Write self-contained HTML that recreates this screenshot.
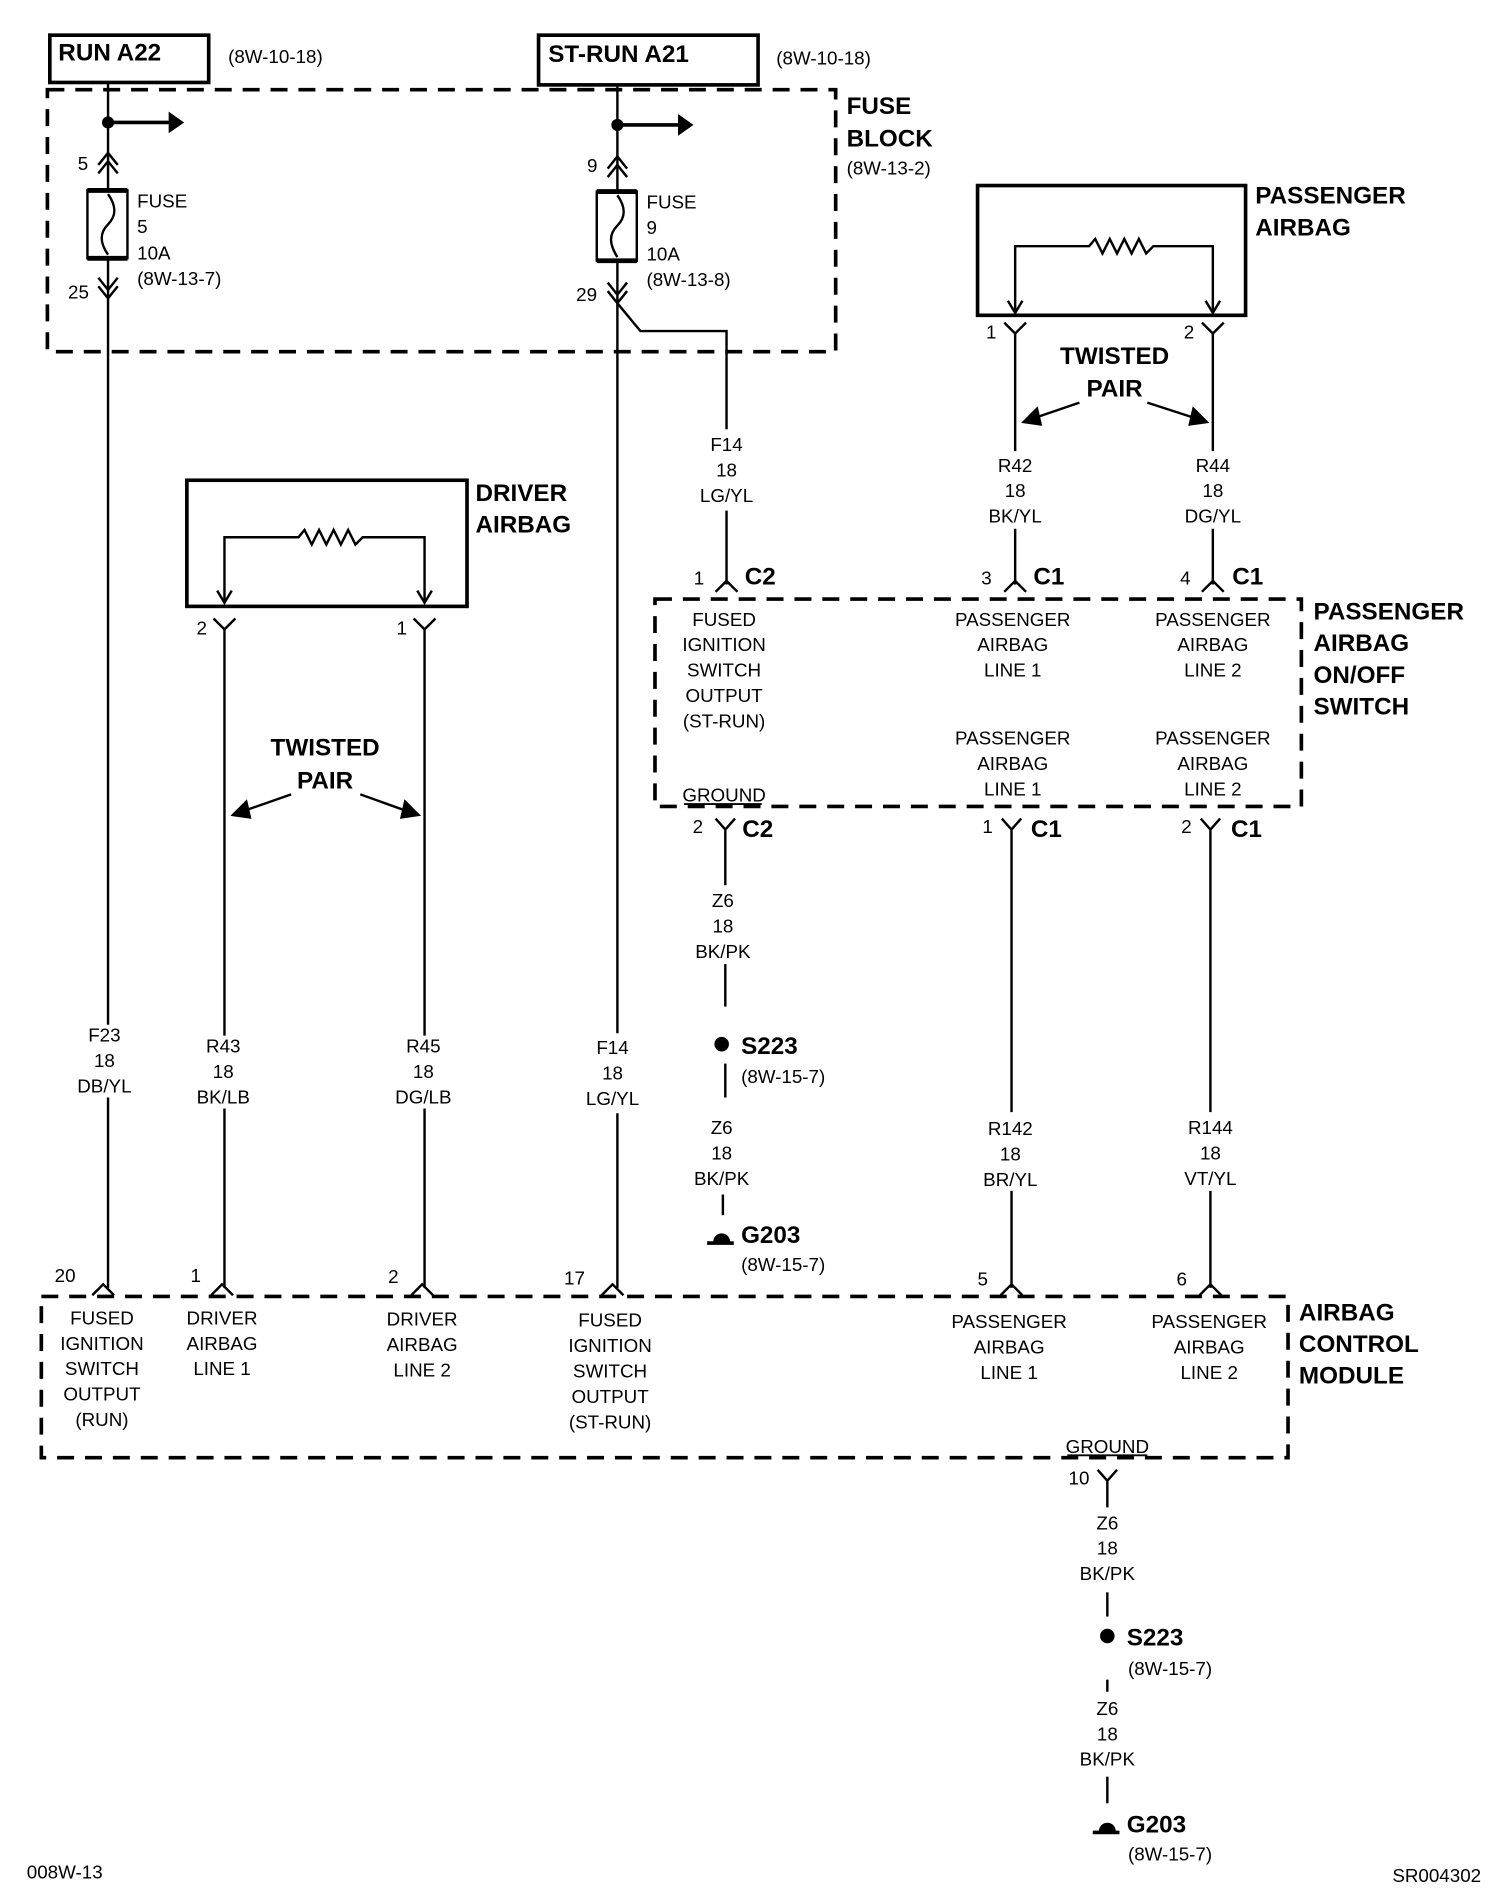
<!DOCTYPE html>
<html><head><meta charset="utf-8"><style>
html,body{margin:0;padding:0;background:#fff}
svg{display:block}
text{font-family:"Liberation Sans Narrow","Liberation Sans",sans-serif;fill:#000}
.s{font-size:15.5px}
.c{font-size:15.5px;text-anchor:middle}
.b{font-size:20px;font-weight:bold}
</style></head><body>
<svg width="1504" height="1904" viewBox="0 0 1240 1570" xmlns="http://www.w3.org/2000/svg">
<g stroke="#000" fill="none" stroke-width="2">
<rect x="41" y="29" width="131" height="39" stroke-width="3"/>
<rect x="444" y="29" width="181" height="41" stroke-width="3"/>
<rect x="39" y="74" width="650" height="216" stroke-width="3" stroke-dasharray="14,9"/>
<line x1="89" y1="68" x2="89" y2="157"/>
<line x1="89" y1="213" x2="89" y2="845"/>
<line x1="89" y1="905" x2="89" y2="1062"/>
<line x1="89" y1="101" x2="140" y2="101" stroke-width="3"/>
<path d="M140,94 L150,101 L140,108 z" fill="#000"/>
<path d="M81,136 L89,126 L97,136 M81,143 L89,133 L97,143"/>
<rect x="72" y="157" width="33" height="56"/>
<line x1="72" y1="157" x2="105" y2="157" stroke-width="4"/>
<line x1="72" y1="213" x2="105" y2="213" stroke-width="4"/>
<path d="M89,160 C96,170 96,178 89,185 C82,192 82,200 89,210"/>
<path d="M81,229 L89,239 L97,229 M81,236 L89,246 L97,236"/>
<line x1="509" y1="70" x2="509" y2="158"/>
<line x1="509" y1="215" x2="509" y2="852"/>
<line x1="509" y1="918" x2="509" y2="1062"/>
<line x1="509" y1="103" x2="560" y2="103" stroke-width="3"/>
<path d="M560,96 L570,103 L560,110 z" fill="#000"/>
<path d="M501,139 L509,129 L517,139 M501,146 L509,136 L517,146"/>
<rect x="492" y="158" width="33" height="57"/>
<line x1="492" y1="158" x2="525" y2="158" stroke-width="4"/>
<line x1="492" y1="215" x2="525" y2="215" stroke-width="4"/>
<path d="M509,161 C516,171 516,179 509,186 C502,193 502,201 509,212"/>
<path d="M501,233 L509,243 L517,233 M501,240 L509,250 L517,240"/>
<path d="M509,250 L528,273 L599,273 L599,354"/>
<line x1="599" y1="421" x2="599" y2="482"/>
<path d="M590,488 L599,479 L608,488"/>
<rect x="154" y="396" width="231" height="104" stroke-width="3"/>
<path d="M185,496 L185,443 L246,443 L251,437 L257,449 L263,437 L269,449 L275,437 L281,449 L287,437 L293,449 L299,443 L350,443 L350,496"/>
<path d="M179,487 L185,497 L191,487 M344,487 L350,497 L356,487"/>
<path d="M176,510 L185,519 L194,510 M341,510 L350,519 L359,510"/>
<line x1="185" y1="519" x2="185" y2="854"/>
<line x1="185" y1="914" x2="185" y2="1062"/>
<line x1="350" y1="519" x2="350" y2="854"/>
<line x1="350" y1="914" x2="350" y2="1062"/>
<line x1="240" y1="655" x2="200" y2="669"/>
<path d="M192,672 L203,661 L206,674 z" fill="#000"/>
<line x1="297" y1="655" x2="336" y2="669"/>
<path d="M345,672 L331,674 L334,661 z" fill="#000"/>
<rect x="806" y="153" width="221" height="107" stroke-width="3"/>
<path d="M837,257 L837,203 L898,203 L903,197 L909,209 L915,197 L921,209 L927,197 L933,209 L939,197 L945,209 L951,203 L1000,203 L1000,257"/>
<path d="M831,248 L837,258 L843,248 M994,248 L1000,258 L1006,248"/>
<path d="M828,266 L837,275 L846,266 M991,266 L1000,275 L1009,266"/>
<line x1="837" y1="275" x2="837" y2="372"/>
<line x1="837" y1="436" x2="837" y2="482"/>
<line x1="1000" y1="275" x2="1000" y2="372"/>
<line x1="1000" y1="436" x2="1000" y2="482"/>
<path d="M828,488 L837,479 L846,488 M991,488 L1000,479 L1009,488"/>
<line x1="890" y1="332" x2="852" y2="345"/>
<path d="M844,348 L855,337 L858,350 z" fill="#000"/>
<line x1="946" y1="332" x2="986" y2="345"/>
<path d="M995,348 L981,350 L984,337 z" fill="#000"/>
<rect x="540" y="494" width="533" height="171" stroke-width="3" stroke-dasharray="14,9"/>
<line x1="564" y1="663" x2="628" y2="663" stroke-width="1.5"/>
<path d="M590,675 L598,684 L606,675 M598,684 L598,730"/>
<line x1="598" y1="795" x2="598" y2="830"/>
<line x1="598" y1="877" x2="598" y2="905"/>
<line x1="596" y1="985" x2="596" y2="1002"/>
<path d="M826,675 L834,684 L842,675 M834,684 L834,917"/>
<line x1="834" y1="982" x2="834" y2="1062"/>
<path d="M990,675 L998,684 L1006,675 M998,684 L998,917"/>
<line x1="998" y1="982" x2="998" y2="1062"/>
<path d="M76,1068 L85,1059 L94,1068 M174,1068 L183,1059 L192,1068 M339,1068 L348,1059 L357,1068 M496,1068 L505,1059 L514,1068 M825,1068 L834,1059 L843,1068 M989,1068 L998,1059 L1007,1068"/>
<rect x="34" y="1069" width="1028" height="133" stroke-width="3" stroke-dasharray="14,9"/>
<line x1="880" y1="1200" x2="946" y2="1200" stroke-width="1.5"/>
<path d="M905,1212 L913,1221 L921,1212 M913,1221 L913,1243"/>
<line x1="913" y1="1313" x2="913" y2="1333"/>
<line x1="913" y1="1385" x2="913" y2="1395"/>
<line x1="913" y1="1465" x2="913" y2="1487"/>
<line x1="583" y1="1025" x2="605" y2="1025" stroke-width="3"/>
<line x1="901" y1="1511" x2="923" y2="1511" stroke-width="3"/>
</g>
<g fill="#000">
<circle cx="89" cy="101" r="5"/>
<circle cx="509" cy="103" r="5"/>
<circle cx="595" cy="861" r="6"/>
<path d="M588,1024 A7,7 0 0 1 602,1024 z"/>
<circle cx="913" cy="1349" r="6"/>
<path d="M906,1510 A7,7 0 0 1 920,1510 z"/>
</g>
<text class="b" x="48" y="50">RUN A22</text>
<text class="s" x="188" y="52">(8W-10-18)</text>
<text class="b" x="452" y="51">ST-RUN A21</text>
<text class="s" x="640" y="53">(8W-10-18)</text>
<text class="b" x="698" y="94">FUSE</text>
<text class="b" x="698" y="121">BLOCK</text>
<text class="s" x="698" y="144">(8W-13-2)</text>
<text class="s" x="64" y="140">5</text>
<text class="s" x="113" y="171">FUSE</text><text class="s" x="113" y="192">5</text><text class="s" x="113" y="214">10A</text><text class="s" x="113" y="235">(8W-13-7)</text>
<text class="s" x="56" y="246">25</text>
<text class="s" x="484" y="142">9</text>
<text class="s" x="533" y="172">FUSE</text><text class="s" x="533" y="193">9</text><text class="s" x="533" y="215">10A</text><text class="s" x="533" y="236">(8W-13-8)</text>
<text class="s" x="475" y="248">29</text>
<text class="c" x="599" y="372">F14</text><text class="c" x="599" y="393">18</text><text class="c" x="599" y="414">LG/YL</text>
<text class="b" x="392" y="413">DRIVER</text><text class="b" x="392" y="439">AIRBAG</text>
<text class="s" x="162" y="523">2</text><text class="s" x="327" y="523">1</text>
<text class="b" x="268" y="623" text-anchor="middle">TWISTED</text><text class="b" x="268" y="650" text-anchor="middle">PAIR</text>
<text class="b" x="1035" y="168">PASSENGER</text><text class="b" x="1035" y="194">AIRBAG</text>
<text class="s" x="813" y="279">1</text><text class="s" x="976" y="279">2</text>
<text class="b" x="919" y="300" text-anchor="middle">TWISTED</text><text class="b" x="919" y="327" text-anchor="middle">PAIR</text>
<text class="c" x="837" y="389">R42</text><text class="c" x="837" y="410">18</text><text class="c" x="837" y="431">BK/YL</text>
<text class="c" x="1000" y="389">R44</text><text class="c" x="1000" y="410">18</text><text class="c" x="1000" y="431">DG/YL</text>
<text class="s" x="572" y="482">1</text><text class="b" x="614" y="482">C2</text>
<text class="s" x="809" y="482">3</text><text class="b" x="852" y="482">C1</text>
<text class="s" x="973" y="482">4</text><text class="b" x="1016" y="482">C1</text>
<text class="b" x="1083" y="511">PASSENGER</text><text class="b" x="1083" y="537">AIRBAG</text><text class="b" x="1083" y="563">ON/OFF</text><text class="b" x="1083" y="589">SWITCH</text>
<text class="c" x="597" y="516">FUSED</text><text class="c" x="597" y="537">IGNITION</text><text class="c" x="597" y="558">SWITCH</text><text class="c" x="597" y="579">OUTPUT</text><text class="c" x="597" y="600">(ST-RUN)</text>
<text class="c" x="835" y="516">PASSENGER</text><text class="c" x="835" y="537">AIRBAG</text><text class="c" x="835" y="558">LINE 1</text>
<text class="c" x="1000" y="516">PASSENGER</text><text class="c" x="1000" y="537">AIRBAG</text><text class="c" x="1000" y="558">LINE 2</text>
<text class="c" x="835" y="614">PASSENGER</text><text class="c" x="835" y="635">AIRBAG</text><text class="c" x="835" y="656">LINE 1</text>
<text class="c" x="1000" y="614">PASSENGER</text><text class="c" x="1000" y="635">AIRBAG</text><text class="c" x="1000" y="656">LINE 2</text>
<text class="c" x="597" y="661">GROUND</text>
<text class="s" x="571" y="687">2</text><text class="b" x="612" y="690">C2</text>
<text class="s" x="810" y="687">1</text><text class="b" x="850" y="690">C1</text>
<text class="s" x="974" y="687">2</text><text class="b" x="1015" y="690">C1</text>
<text class="c" x="596" y="748">Z6</text><text class="c" x="596" y="769">18</text><text class="c" x="596" y="790">BK/PK</text>
<text class="b" x="611" y="869">S223</text><text class="s" x="611" y="893">(8W-15-7)</text>
<text class="c" x="595" y="935">Z6</text><text class="c" x="595" y="956">18</text><text class="c" x="595" y="977">BK/PK</text>
<text class="b" x="611" y="1025">G203</text><text class="s" x="611" y="1048">(8W-15-7)</text>
<text class="c" x="86" y="859">F23</text><text class="c" x="86" y="880">18</text><text class="c" x="86" y="901">DB/YL</text>
<text class="c" x="184" y="868">R43</text><text class="c" x="184" y="889">18</text><text class="c" x="184" y="910">BK/LB</text>
<text class="c" x="349" y="868">R45</text><text class="c" x="349" y="889">18</text><text class="c" x="349" y="910">DG/LB</text>
<text class="c" x="505" y="869">F14</text><text class="c" x="505" y="890">18</text><text class="c" x="505" y="911">LG/YL</text>
<text class="c" x="833" y="936">R142</text><text class="c" x="833" y="957">18</text><text class="c" x="833" y="978">BR/YL</text>
<text class="c" x="998" y="935">R144</text><text class="c" x="998" y="956">18</text><text class="c" x="998" y="977">VT/YL</text>
<text class="s" x="45" y="1057">20</text><text class="s" x="157" y="1057">1</text><text class="s" x="320" y="1058">2</text><text class="s" x="465" y="1059">17</text>
<text class="s" x="806" y="1060">5</text><text class="s" x="970" y="1060">6</text>
<text class="c" x="84" y="1092">FUSED</text><text class="c" x="84" y="1113">IGNITION</text><text class="c" x="84" y="1134">SWITCH</text><text class="c" x="84" y="1155">OUTPUT</text><text class="c" x="84" y="1176">(RUN)</text>
<text class="c" x="183" y="1092">DRIVER</text><text class="c" x="183" y="1113">AIRBAG</text><text class="c" x="183" y="1134">LINE 1</text>
<text class="c" x="348" y="1093">DRIVER</text><text class="c" x="348" y="1114">AIRBAG</text><text class="c" x="348" y="1135">LINE 2</text>
<text class="c" x="503" y="1094">FUSED</text><text class="c" x="503" y="1115">IGNITION</text><text class="c" x="503" y="1136">SWITCH</text><text class="c" x="503" y="1157">OUTPUT</text><text class="c" x="503" y="1178">(ST-RUN)</text>
<text class="c" x="832" y="1095">PASSENGER</text><text class="c" x="832" y="1116">AIRBAG</text><text class="c" x="832" y="1137">LINE 1</text>
<text class="c" x="997" y="1095">PASSENGER</text><text class="c" x="997" y="1116">AIRBAG</text><text class="c" x="997" y="1137">LINE 2</text>
<text class="b" x="1071" y="1089">AIRBAG</text><text class="b" x="1071" y="1115">CONTROL</text><text class="b" x="1071" y="1141">MODULE</text>
<text class="c" x="913" y="1198">GROUND</text>
<text class="s" x="881" y="1224">10</text>
<text class="c" x="913" y="1261">Z6</text><text class="c" x="913" y="1282">18</text><text class="c" x="913" y="1303">BK/PK</text>
<text class="b" x="929" y="1357">S223</text><text class="s" x="930" y="1381">(8W-15-7)</text>
<text class="c" x="913" y="1414">Z6</text><text class="c" x="913" y="1435">18</text><text class="c" x="913" y="1456">BK/PK</text>
<text class="b" x="929" y="1511">G203</text><text class="s" x="930" y="1534">(8W-15-7)</text>
<text class="s" x="22" y="1549">008W-13</text>
<text class="s" x="1148" y="1552">SR004302</text>
</svg>
</body></html>
